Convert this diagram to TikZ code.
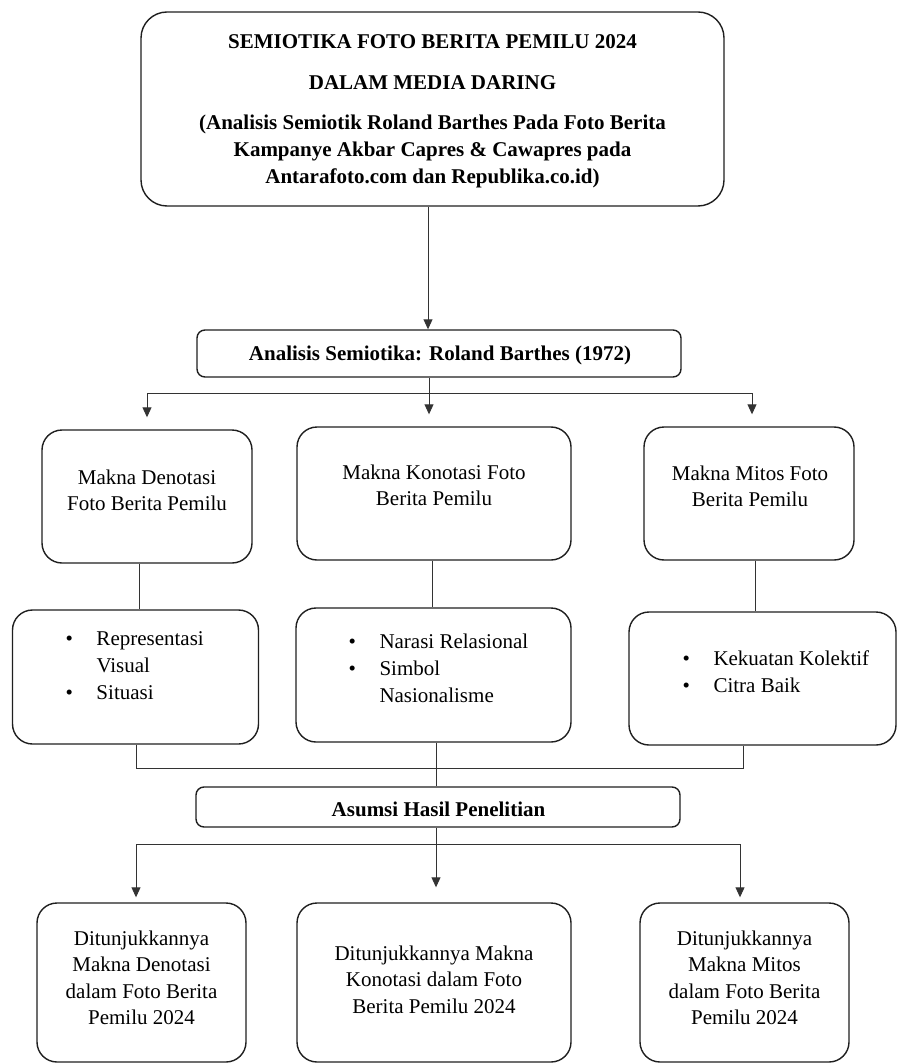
\documentclass[tikz,border=0pt]{standalone}
\usepackage{fontspec}
\setmainfont{Liberation Serif}
\usetikzlibrary{arrows.meta}
\begin{document}
\begin{tikzpicture}[x=1pt,y=-1pt,
  bx/.style={draw=black!88, line width=1.4pt, rounded corners=20pt, inner sep=0pt, fill=white},
  bxs/.style={bx, rounded corners=8pt},
  bxt/.style={bx, rounded corners=26pt},
  txt/.style={inner sep=0pt, anchor=base, font=\fontsize{21}{26.5}\selectfont},
  btxt/.style={inner sep=0pt, anchor=base, font=\fontsize{21}{27}\selectfont\bfseries},
  ltxt/.style={inner sep=0pt, anchor=base west, font=\fontsize{21}{27}\selectfont},
  ln/.style={draw=black!80, line width=0.9pt},
  arr/.style={ln, -{Triangle[length=10pt,width=9pt]}}]
\useasboundingbox (0,0) rectangle (898,1064);
% boxes
\node[bxt, minimum width=583pt, minimum height=194pt] (top) at (432.5,109) {};
\node[bxs, minimum width=484pt, minimum height=47pt] (ana) at (439,353.5) {};
\node[bx, minimum width=210pt, minimum height=133pt] (den) at (147,496.5) {};
\node[bx, minimum width=274pt, minimum height=133pt] (kon) at (434,493.5) {};
\node[bx, minimum width=210pt, minimum height=133pt] (mit) at (749,493.5) {};
\node[bx, minimum width=246pt, minimum height=134pt] (rep) at (135.5,677) {};
\node[bx, minimum width=275pt, minimum height=134pt] (nar) at (433.5,675) {};
\node[bx, minimum width=267pt, minimum height=133pt] (kek) at (762.5,678.5) {};
\node[bxs, minimum width=484pt, minimum height=40pt] (asu) at (438,807) {};
\node[bx, minimum width=209pt, minimum height=159pt] (d1) at (141.5,982.5) {};
\node[bx, minimum width=274pt, minimum height=159pt] (d2) at (434,982.5) {};
\node[bx, minimum width=209pt, minimum height=159pt] (d3) at (744.5,982.5) {};
% texts
\node[btxt] (topt) at (432.5,49) {\begin{tabular}[t]{@{}c@{}}SEMIOTIKA FOTO BERITA PEMILU 2024\\[14pt] DALAM MEDIA DARING\\[13pt] (Analisis Semiotik Roland Barthes Pada Foto Berita\\ Kampanye Akbar Capres \& Cawapres pada\\ Antarafoto.com dan Republika.co.id)\end{tabular}};
\node[btxt] (anat) at (440,360) {Analisis Semiotika: Roland Barthes (1972)};
\node[txt] (dent) at (147,484) {\begin{tabular}[t]{@{}c@{}}Makna Denotasi\\ Foto Berita Pemilu\end{tabular}};
\node[txt] (kont) at (434,479) {\begin{tabular}[t]{@{}c@{}}Makna Konotasi Foto\\ Berita Pemilu\end{tabular}};
\node[txt] (mitt) at (750,480) {\begin{tabular}[t]{@{}c@{}}Makna Mitos Foto\\ Berita Pemilu\end{tabular}};
\node[ltxt] (rept) at (65.3,645) {\begin{tabular}[t]{@{}l@{}l@{}}\makebox[31pt][l]{•}&Representasi\\ &Visual\\ \makebox[31pt][l]{•}&Situasi\end{tabular}};
\node[ltxt] (nart) at (348.3,648) {\begin{tabular}[t]{@{}l@{}l@{}}\makebox[31pt][l]{•}&Narasi Relasional\\ \makebox[31pt][l]{•}&Simbol\\ &Nasionalisme\end{tabular}};
\node[ltxt] (kekt) at (682.3,665) {\begin{tabular}[t]{@{}l@{}l@{}}\makebox[31pt][l]{•}&Kekuatan Kolektif\\ \makebox[31pt][l]{•}&Citra Baik\end{tabular}};
\node[btxt] (asut) at (438.5,816) {Asumsi Hasil Penelitian};
\node[txt] (d1t) at (141.5,945) {\begin{tabular}[t]{@{}c@{}}Ditunjukkannya\\ Makna Denotasi\\ dalam Foto Berita\\ Pemilu 2024\end{tabular}};
\node[txt] (d2t) at (434,960) {\begin{tabular}[t]{@{}c@{}}Ditunjukkannya Makna\\ Konotasi dalam Foto\\ Berita Pemilu 2024\end{tabular}};
\node[txt] (d3t) at (744.5,945) {\begin{tabular}[t]{@{}c@{}}Ditunjukkannya\\ Makna Mitos\\ dalam Foto Berita\\ Pemilu 2024\end{tabular}};
% coordinates
\coordinate (b1) at (429,393);
\coordinate (bl) at (147,393);
\coordinate (br) at (752,393);
\coordinate (m0) at (436,768);
\coordinate (m1) at (136,768);
\coordinate (m2) at (743,768);
\coordinate (c0) at (436,844);
\coordinate (cl) at (136,844);
\coordinate (cr) at (740,844);
% connectors
\draw[arr] ([xshift=-4.5pt]top.south) -- ([xshift=-4.5pt]top.south |- ana.north);
\draw[ln] (ana.south -| b1) -- (b1);
\draw[ln] (bl) -- (br);
\draw[arr, shorten >=12pt] (bl) -- (bl |- den.north);
\draw[arr, shorten >=12pt] (b1) -- (b1 |- kon.north);
\draw[arr, shorten >=12pt] (br) -- (br |- mit.north);
\draw[ln] ([xshift=-8pt]den.south) -- ([xshift=-8pt]den.south |- rep.north);
\draw[ln] ([xshift=-2pt]kon.south) -- ([xshift=-2pt]kon.south |- nar.north);
\draw[ln] ([xshift=6pt]mit.south) -- ([xshift=6pt]mit.south |- kek.north);
\draw[ln] (rep.south -| m1) -- (m1) -- (m2) -- (kek.south -| m2);
\draw[ln] (nar.south -| m0) -- (asu.north -| m0);
\draw[ln] (asu.south -| c0) -- (c0);
\draw[ln] (cl) -- (cr);
\draw[arr, shorten >=5pt] (cl) -- (cl |- d1.north);
\draw[arr, shorten >=15pt] (c0) -- (c0 |- d2.north);
\draw[arr, shorten >=5pt] (cr) -- (cr |- d3.north);
\end{tikzpicture}
\end{document}
